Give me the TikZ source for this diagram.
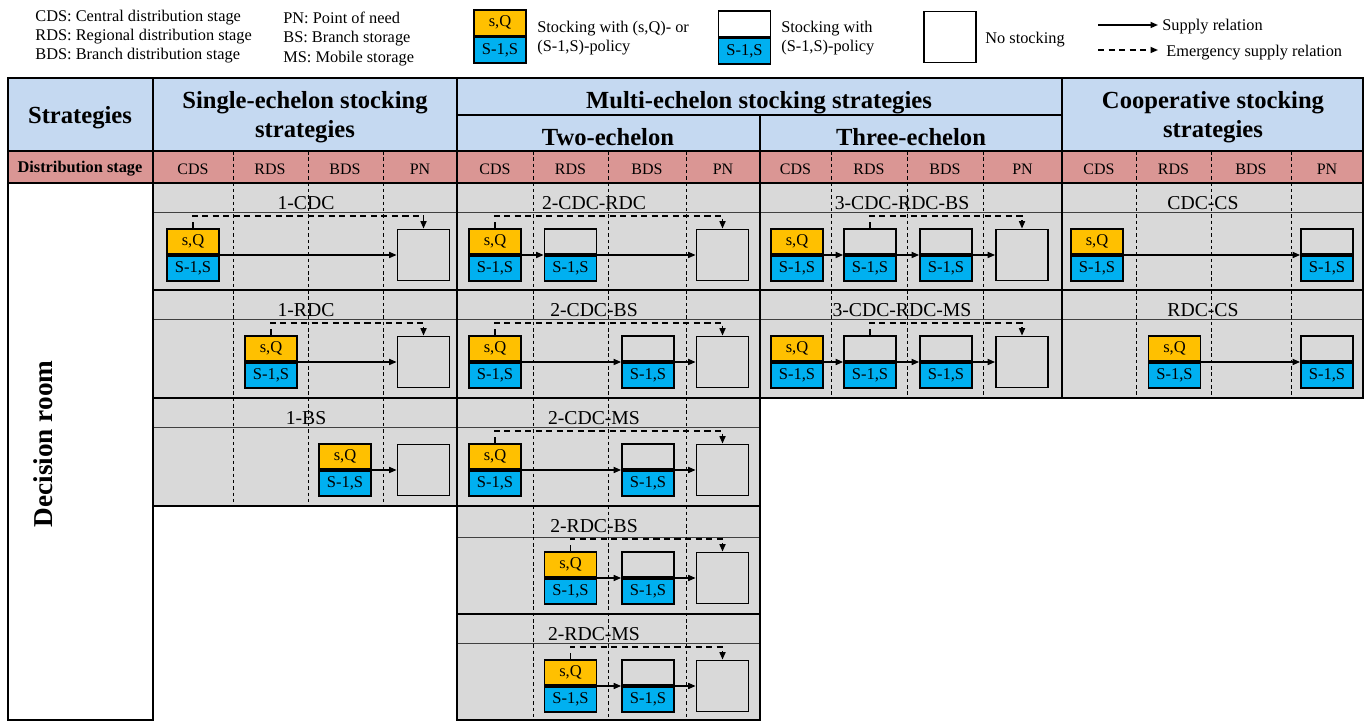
\documentclass[tikz,border=0pt]{standalone}
\usepackage{fontspec}
\setmainfont{Liberation Serif}
\usetikzlibrary{arrows.meta,positioning}
\definecolor{sqorange}{HTML}{FFC000}
\definecolor{ssblue}{HTML}{00B0F0}
\definecolor{headblue}{HTML}{C5D9F1}
\definecolor{stagered}{HTML}{DA9694}
\definecolor{cellgray}{HTML}{D9D9D9}
\tikzset{
  halfbox/.style={draw=black,line width=1pt,minimum width=1.04cm,
                  minimum height=0.51cm,inner sep=0pt,
                  font=\fontsize{9.4}{11}\selectfont},
  fullbox/.style={draw=black,line width=1pt,minimum width=1.04cm,
                  minimum height=1.02cm,inner sep=0pt},
  tabline/.style={line width=1.1pt,draw=black},
  bandline/.style={line width=0.5pt,draw=black!75},
  sepline/.style={line width=0.5pt,draw=black,dash pattern=on 2pt off 1.6pt},
  supparr/.style={-{Triangle[length=1.5mm,width=1.2mm]},line width=0.9pt},
  emarr/.style={-{Triangle[length=1.5mm,width=1.2mm]},line width=0.9pt,
                dash pattern=on 3.5pt off 2.5pt},
  legtxt/.style={font=\fontsize{9.3}{10.8}\selectfont,align=left,inner sep=0pt},
  headtxt/.style={font=\fontsize{14}{16.5}\selectfont\bfseries,align=center,
                  inner sep=0pt},
  stagetxt/.style={font=\fontsize{9.1}{11}\selectfont,inner sep=0pt},
  titletxt/.style={font=\fontsize{11.2}{13}\selectfont,inner sep=0pt}
}
\newcommand{\sqbox}[2]{%
  \node[halfbox,fill=sqorange,anchor=south] (#1t) at (#2) {s,Q};
  \node[halfbox,fill=ssblue,anchor=north] (#1b) at (#2) {S-1,S};}
\newcommand{\ssbox}[2]{%
  \node[halfbox,anchor=south] (#1t) at (#2) {};
  \node[halfbox,fill=ssblue,anchor=north] (#1b) at (#2) {S-1,S};}
\newcommand{\nobox}[2]{\node[fullbox] (#1) at (#2) {};}

\begin{document}
\begin{tikzpicture}[x=0.02cm,y=-0.02cm]
  \path[use as bounding box] (0,0) rectangle (1370,722);

  % legend
  \node[legtxt,anchor=west] (abbr1) at (35,36.5)
    {CDS: Central distribution stage\\RDS: Regional distribution stage\\
     BDS: Branch distribution stage};
  \node[legtxt,anchor=west,font=\fontsize{9.3}{11.2}\selectfont] (abbr2)
    at (283,39) {PN: Point of need\\BS: Branch storage\\MS: Mobile storage};
  \sqbox{lgq}{500,36.5}
  \node[legtxt,anchor=west] (lgqtxt) at (537,38.5)
    {Stocking with (s,Q)- or\\(S-1,S)-policy};
  \ssbox{lgs}{744.5,37.5}
  \node[legtxt,anchor=west] (lgstxt) at (781,38.5)
    {Stocking with\\(S-1,S)-policy};
  \nobox{lgn}{950,37}
  \node[legtxt,anchor=west] (lgntxt) at (985,40) {No stocking};
  \coordinate (sup0) at (1098,25);
  \node[legtxt,anchor=west] (suptxt) at (1162,27) {Supply relation};
  \draw[supparr] (sup0) -- ([xshift=-0.08cm]sup0 -| suptxt.west);
  \coordinate (em0) at (1098,50);
  \node[legtxt,anchor=west] (emtxt) at (1166,53) {Emergency supply relation};
  \draw[emarr] (em0) -- ([xshift=-0.16cm]em0 -| emtxt.west);

  % table background
  \fill[headblue] (8,78) rectangle (1363,151);
  \fill[stagered] (8,151) rectangle (1363,183);
  \fill[cellgray] (153,183) rectangle (457,506);
  \fill[cellgray] (457,183) rectangle (760,720);
  \fill[cellgray] (760,183) rectangle (1363,398);
  \foreach \y in {212,319,427} \draw[bandline] (153,\y) -- (457,\y);
  \foreach \y in {212,319,427,537,643} \draw[bandline] (457,\y) -- (760,\y);
  \foreach \y in {212,319} \draw[bandline] (760,\y) -- (1363,\y);
  \foreach \x/\yb in {233/506,308/506,383/506,533/720,608/720,686/720,
                      831/398,907/398,983/398,1136/398,1211/398,1291/398}
    \draw[sepline] (\x,151) -- (\x,\yb);

  % table lines
  \draw[tabline] (8,78) rectangle (1363,183);
  \draw[tabline] (8,151) -- (1363,151);
  \draw[tabline] (457,115) -- (1062,115);
  \foreach \x in {153,457,1062} \draw[tabline] (\x,78) -- (\x,183);
  \draw[tabline] (760,115) -- (760,183);
  \draw[tabline] (8,183) rectangle (153,720);
  \draw[tabline] (153,183) rectangle (457,506);
  \draw[tabline] (457,183) rectangle (760,720);
  \draw[tabline] (760,183) rectangle (1062,398);
  \draw[tabline] (1062,183) rectangle (1363,398);
  \foreach \y in {290,398} \draw[tabline] (153,\y) -- (457,\y);
  \foreach \y in {290,398,506,614} \draw[tabline] (457,\y) -- (760,\y);
  \draw[tabline] (760,290) -- (1363,290);

  % headers
  \node[headtxt] (hstrat) at (80,118) {Strategies};
  \node[headtxt] (hsingle) at (305,117) {Single-echelon stocking\\strategies};
  \node[headtxt] (hmulti) at (759,103) {Multi-echelon stocking strategies};
  \node[headtxt] (htwo) at (608,137) {Two-echelon};
  \node[headtxt] (hthree) at (911,137) {Three-echelon};
  \node[headtxt] (hcoop) at (1213,117) {Cooperative stocking\\strategies};
  \node[stagetxt,font=\fontsize{9.3}{11}\selectfont\bfseries] (hstage)
    at (80,169) {Distribution stage};
  \foreach \x/\s [count=\i] in {193/CDS,270/RDS,345/BDS,420/PN,
      495/CDS,570.5/RDS,647/BDS,723/PN,795.5/CDS,869/RDS,945/BDS,1022.5/PN,
      1099/CDS,1173.5/RDS,1251/BDS,1327/PN}
    \node[stagetxt] (stg\i) at (\x,169) {\s};
  \node[headtxt,font=\fontsize{15.5}{18}\selectfont\bfseries,rotate=90]
    (decroom) at (43,444) {Decision room};

  % strategy titles
  \foreach \s/\x/\y [count=\i] in {1-CDC/306/203,1-RDC/306/310,1-BS/306/418,
      2-CDC-RDC/594/203,2-CDC-BS/594/310,2-CDC-MS/594/418,2-RDC-BS/594/526,
      2-RDC-MS/594/634,3-CDC-RDC-BS/902/203,3-CDC-RDC-MS/902/310,
      CDC-CS/1203/203,RDC-CS/1203/310}
    \node[titletxt] (ttl\i) at (\x,\y) {\s};

  % single-echelon
  \sqbox{sa}{193,255} \nobox{sap}{423.5,255}
  \draw[supparr] (sat.south east) -- (sap.west);
  \draw[emarr] (sat.north) -- ++(0,-12) -| (sap.north);
  \sqbox{sb}{271,362} \nobox{sbp}{423.5,362}
  \draw[supparr] (sbt.south east) -- (sbp.west);
  \draw[emarr] (sbt.north) -- ++(0,-12) -| (sbp.north);
  \sqbox{sc}{345,470} \nobox{scp}{423.5,470}
  \draw[supparr] (sct.south east) -- (scp.west);

  % two-echelon
  \sqbox{ta}{495,255} \ssbox{tar}{570.5,255} \nobox{tap}{722.5,255}
  \draw[supparr] (tat.south east) -- (tart.south west);
  \draw[supparr] (tart.south east) -- (tap.west);
  \draw[emarr] (tat.north) -- ++(0,-12) -| (tap.north);
  \foreach \r/\y in {b/362,c/470}{
    \sqbox{t\r}{495,\y} \ssbox{t\r b}{648,\y} \nobox{t\r p}{722.5,\y}
    \draw[supparr] (t\r t.south east) -- (t\r bt.south west);
    \draw[supparr] (t\r bt.south east) -- (t\r p.west);
    \draw[emarr] (t\r t.north) -- ++(0,-12) -| (t\r p.north);
  }
  \foreach \r/\y in {d/578,e/686}{
    \sqbox{t\r}{570.5,\y} \ssbox{t\r b}{648,\y} \nobox{t\r p}{722.5,\y}
    \draw[supparr] (t\r t.south east) -- (t\r bt.south west);
    \draw[supparr] (t\r bt.south east) -- (t\r p.west);
    \draw[emarr] (t\r t.north) -- ++(0,-12) -| (t\r p.north);
  }

  % three-echelon
  \foreach \r/\y in {a/255,b/362}{
    \sqbox{h\r}{797,\y} \ssbox{h\r r}{870,\y} \ssbox{h\r b}{946,\y}
    \nobox{h\r p}{1022,\y}
    \draw[supparr] (h\r t.south east) -- (h\r rt.south west);
    \draw[supparr] (h\r rt.south east) -- (h\r bt.south west);
    \draw[supparr] (h\r bt.south east) -- (h\r p.west);
    \draw[emarr] (h\r rt.north) -- ++(0,-12) -| (h\r p.north);
  }

  % cooperative
  \sqbox{ca}{1097,255} \ssbox{cap}{1327,255}
  \draw[supparr] (cat.south east) -- (capt.south west);
  \sqbox{cb}{1174.5,362} \ssbox{cbp}{1327,362}
  \draw[supparr] (cbt.south east) -- (cbpt.south west);
\end{tikzpicture}
\end{document}
